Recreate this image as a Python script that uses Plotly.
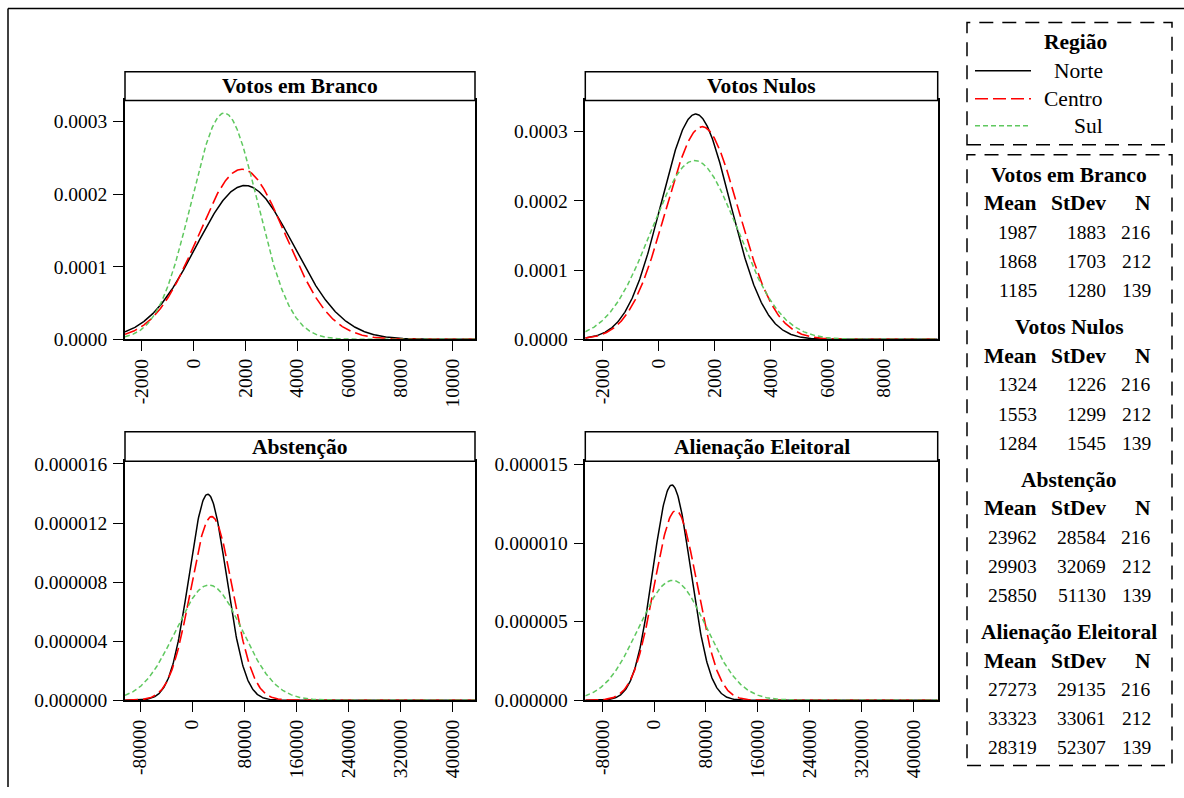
import numpy as np
import plotly.graph_objects as go

W, H = 1184, 798

regions = ["Norte", "Centro", "Sul"]
variables = ["Votos em Branco", "Votos Nulos", "Abstenção", "Alienação Eleitoral"]

branco_mean = [1987, 1868, 1185]
branco_sd = [1883, 1703, 1280]
branco_n = [216, 212, 139]

nulos_mean = [1324, 1553, 1284]
nulos_sd = [1226, 1299, 1545]
nulos_n = [216, 212, 139]

abst_mean = [23962, 29903, 25850]
abst_sd = [28584, 32069, 51130]
abst_n = [216, 212, 139]

alien_mean = [27273, 33323, 28319]
alien_sd = [29135, 33061, 52307]
alien_n = [216, 212, 139]

stats = [
    (branco_mean, branco_sd, branco_n),
    (nulos_mean, nulos_sd, nulos_n),
    (abst_mean, abst_sd, abst_n),
    (alien_mean, alien_sd, alien_n),
]

x_ticks = [
    [-2000, 0, 2000, 4000, 6000, 8000, 10000],
    [-2000, 0, 2000, 4000, 6000, 8000],
    [-80000, 0, 80000, 160000, 240000, 320000, 400000],
    [-80000, 0, 80000, 160000, 240000, 320000, 400000],
]
y_ticks = [
    [0, 0.0001, 0.0002, 0.0003],
    [0, 0.0001, 0.0002, 0.0003],
    [0, 0.000004, 0.000008, 0.000012, 0.000016],
    [0, 0.000005, 0.000010, 0.000015],
]
y_fmt = [".4f", ".4f", ".6f", ".6f"]

# ---------------- styling / layout ----------------
FONT = "Liberation Serif, Times New Roman, serif"
FS_NUM = 19.5
FS_TXT = 21.5
colors = ["#000000", "#FF0000", "#5FC85F"]
dashes = ["solid", "13px,5px", "5px,3px"]
widths = [1.5, 1.6, 1.5]

x_ranges = [[-2650, 10870], [-2604, 9930], [-103030, 434400], [-106250, 437700]]
y_ranges = [[0, 0.000329], [0, 0.000345], [0, 1.618e-5], [0, 1.52e-5]]

# panel pixel boxes: (left, right, strip_top, plot_top, plot_bottom)
boxes = [
    (125, 475, 73, 101.7, 340),
    (585.3, 937.7, 73, 101.7, 340),
    (125, 475, 432.3, 461.7, 700),
    (585.3, 937.7, 432.3, 461.7, 700),
]

# the rendered picture maps page y to 8.5 + 0.975*y; place items accordingly
Y_OFF, Y_SCALE = 8.5, 0.975


def px(x):
    return x / W


def py(y):
    return 1 - ((y - Y_OFF) / Y_SCALE) / H


fig = go.Figure()
shapes = []
annotations = []

for i in range(4):
    means, sds, ns = stats[i]
    xr = x_ranges[i]
    xs = np.linspace(xr[0], xr[1], 600)
    ax = "" if i == 0 else str(i + 1)
    for r in range(3):
        m, s = means[r], sds[r]
        dens = np.exp(-0.5 * ((xs - m) / s) ** 2) / (s * np.sqrt(2 * np.pi))
        fig.add_trace(go.Scatter(
            x=xs, y=dens, mode="lines", name=regions[r], showlegend=False,
            line=dict(color=colors[r], dash=dashes[r], width=widths[r]),
            xaxis="x" + ax, yaxis="y" + ax, hoverinfo="skip",
        ))
    l, rgt, st, pt, pb = boxes[i]
    axis_common = dict(
        showline=True, linecolor="black", linewidth=1.5, mirror=True,
        ticks="outside", ticklen=10, tickwidth=1.2, tickcolor="black",
        showgrid=False, zeroline=False,
        tickfont=dict(family=FONT, size=FS_NUM, color="black"),
    )
    fig.update_layout(**{
        "xaxis" + ax: dict(
            domain=[px(l), px(rgt)], range=xr, anchor="y" + ax,
            tickvals=x_ticks[i], ticktext=[str(v) for v in x_ticks[i]],
            tickangle=-90, **axis_common),
        "yaxis" + ax: dict(
            domain=[py(pb), py(pt)], range=y_ranges[i], anchor="x" + ax,
            tickvals=y_ticks[i], tickformat=y_fmt[i], ticklabelstandoff=2,
            **axis_common),
    })
    # strip header
    shapes.append(dict(type="rect", xref="paper", yref="paper",
                       x0=px(l), x1=px(rgt), y0=py(pt), y1=py(st),
                       line=dict(color="black", width=1.5), fillcolor="white"))
    annotations.append(dict(xref="paper", yref="paper", x=px((l + rgt) / 2),
                            y=py((st + pt) / 2), text="<b>" + variables[i] + "</b>",
                            showarrow=False, xanchor="center", yanchor="middle",
                            font=dict(family=FONT, size=FS_TXT, color="black")))

# outer frame (top and left edges)
shapes.append(dict(type="line", xref="paper", yref="paper", x0=px(8), x1=1,
                   y0=py(10), y1=py(10), line=dict(color="black", width=1.5)))
shapes.append(dict(type="line", xref="paper", yref="paper", x0=px(8), x1=px(8),
                   y0=py(10), y1=0, line=dict(color="black", width=1.5)))

# legend box
box_dash = "14px,9px"
shapes.append(dict(type="rect", xref="paper", yref="paper", x0=px(967), x1=px(1172),
                   y0=py(146), y1=py(24), line=dict(color="black", width=1.5, dash=box_dash)))
annotations.append(dict(xref="paper", yref="paper", x=px(1075), y=py(43), text="<b>Região</b>",
                        showarrow=False, xanchor="center", yanchor="middle",
                        font=dict(family=FONT, size=FS_TXT, color="black")))
leg_y = [72, 100, 127]
for r in range(3):
    shapes.append(dict(type="line", xref="paper", yref="paper", x0=px(975), x1=px(1031),
                       y0=py(leg_y[r]), y1=py(leg_y[r]),
                       line=dict(color=colors[r], width=widths[r], dash=dashes[r])))
    annotations.append(dict(xref="paper", yref="paper", x=px(1105), y=py(leg_y[r]),
                            text=regions[r], showarrow=False, xanchor="right",
                            yanchor="middle", font=dict(family=FONT, size=FS_TXT, color="black")))

# stats table box
shapes.append(dict(type="rect", xref="paper", yref="paper", x0=px(967), x1=px(1172),
                   y0=py(765), y1=py(156), line=dict(color="black", width=1.5, dash=box_dash)))
title_y = [176, 328, 480, 632]
col_x = [1039, 1108, 1153]
for i in range(4):
    ty = title_y[i]
    means, sds, ns = stats[i]
    annotations.append(dict(xref="paper", yref="paper", x=px(1069), y=py(ty),
                            text="<b>" + variables[i] + "</b>", showarrow=False,
                            xanchor="center", yanchor="middle",
                            font=dict(family=FONT, size=FS_TXT, color="black")))
    for c, h in enumerate(["Mean", "StDev", "N"]):
        annotations.append(dict(xref="paper", yref="paper", x=px(col_x[c]), y=py(ty + 28.5),
                                text="<b>" + h + "</b>", showarrow=False,
                                xanchor="right", yanchor="middle",
                                font=dict(family=FONT, size=FS_TXT, color="black")))
    for r in range(3):
        rowy = ty + 57.5 + 29 * r
        for c, v in enumerate([means[r], sds[r], ns[r]]):
            annotations.append(dict(xref="paper", yref="paper", x=px(col_x[c]), y=py(rowy),
                                    text=str(v), showarrow=False,
                                    xanchor="right", yanchor="middle",
                                    font=dict(family=FONT, size=FS_NUM, color="black")))

fig.update_layout(
    width=W, height=H, margin=dict(l=0, r=0, t=0, b=0),
    paper_bgcolor="white", plot_bgcolor="white",
    showlegend=False, shapes=shapes, annotations=annotations,
    font=dict(family=FONT, size=FS_NUM, color="black"),
)

post = (
    "var s=document.createElement('style');"
    "s.innerHTML='html,body{margin:0;padding:0;overflow:hidden;}';"
    "document.head.appendChild(s);"
    "var d=document.getElementById('{plot_id}');"
    "d.style.position='absolute';d.style.left='0px';d.style.top='0px';"
)
fig.write_html("out.html", config={"displayModeBar": False}, post_script=post)
